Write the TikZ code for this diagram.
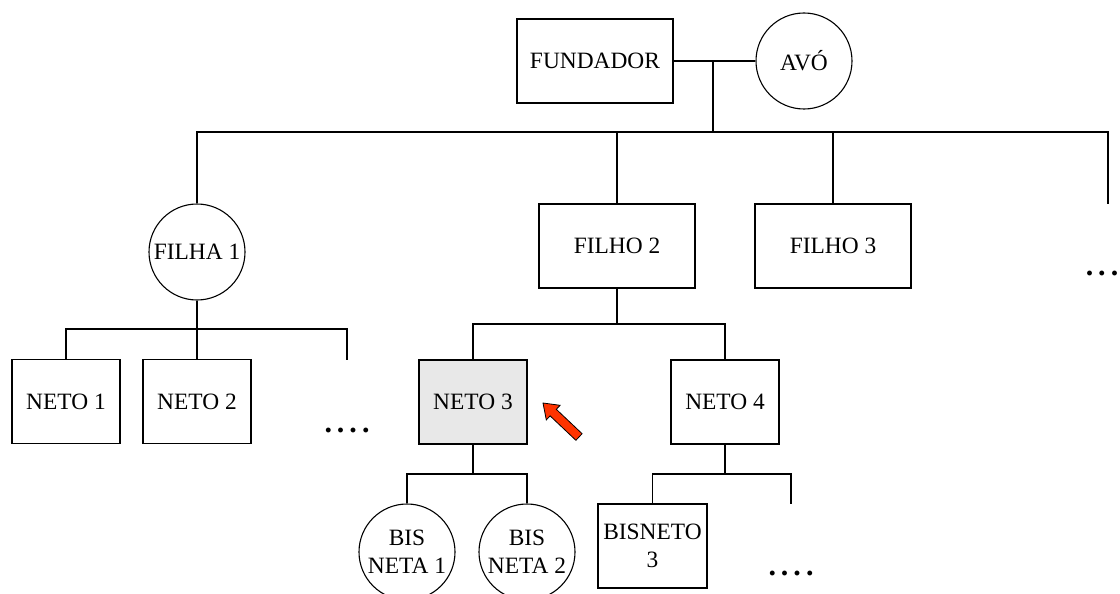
\documentclass[tikz,border=0pt]{standalone}
\usepackage{fontspec}
\setmainfont{Liberation Serif}
\definecolor{arrowred}{HTML}{FF3300}
\definecolor{selgray}{HTML}{E8E8E8}
\newcommand{\dotgap}{\hspace{5pt}}
\begin{document}
\begin{tikzpicture}[x=1pt,y=-1pt,
  every node/.style={font=\fontsize{23.4}{28}\selectfont, inner sep=0pt},
  box/.style={draw, line width=1.1pt, rectangle, minimum width=156pt, minimum height=84pt, align=center},
  smallbox/.style={box, minimum width=108pt},
  person/.style={draw, line width=1.1pt, circle, minimum size=96pt},
  link/.style={line width=1.1pt},
  dotsrow/.style={font=\fontsize{30}{32}\selectfont\bfseries}]
\useasboundingbox (0,0) rectangle (1120,594);

% level 0
\node[box] (fund) at (595,61) {FUNDADOR};
\node[person, label=center:AVÓ] (avo) at (804,61) {};

% level 1
\node[person, label=center:FILHA 1] (filha1) at (197,252) {};
\node[box] (filho2) at (617,246) {FILHO 2};
\node[box] (filho3) at (833,246) {FILHO 3};
\node[dotsrow] (d0) at (1102,273) {.\dotgap.\dotgap.};

% level 2
\node[smallbox] (neto1) at (66,401.5) {NETO 1};
\node[smallbox] (neto2) at (197,401.5) {NETO 2};
\node[dotsrow] (d1) at (347,430) {.\dotgap.\dotgap.\dotgap.};
\node[smallbox, fill=selgray] (neto3) at (473,402) {NETO 3};
\node[smallbox] (neto4) at (725,402) {NETO 4};

% level 3
\node[person, label={[align=center]center:BIS\\NETA 1}] (bn1) at (407,552) {};
\node[person, label={[align=center]center:BIS\\NETA 2}] (bn2) at (527,552) {};
\node[smallbox, minimum width=109pt] (bis3) at (652.5,546) {BISNETO\\3};
\node[dotsrow] (d2) at (791,573) {.\dotgap.\dotgap.\dotgap.};

% coordinates
\coordinate (j0) at (713,61);
\coordinate (b0) at (713,132);
\coordinate (e0) at (1108,132);
\coordinate (e0d) at (1108,204);
\coordinate (b1) at (197,329);
\coordinate (e1) at (347,329);
\coordinate (e1d) at (347,360);
\coordinate (b2) at (617,324);
\coordinate (b3) at (473,474);
\coordinate (b4) at (725,474);
\coordinate (e4) at (791,474);
\coordinate (e4d) at (791,504);

% connectors
\draw[link] (fund.east) -- (avo.west);
\draw[link] (j0) -- (b0);
\draw[link] (filha1.north) -- (filha1.north |- b0) -- (e0) -- (e0d);
\draw[link] (filho2.north) -- (filho2.north |- b0);
\draw[link] (filho3.north) -- (filho3.north |- b0);

\draw[link] (filha1.south) -- (b1);
\draw[link] (neto1.north) -- (neto1.north |- b1) -- (e1) -- (e1d);
\draw[link] (neto2.north) -- (neto2.north |- b1);

\draw[link] (filho2.south) -- (b2);
\draw[link] (neto3.north) -- (neto3.north |- b2) -- (neto4.north |- b2) -- (neto4.north);

\draw[link] (neto3.south) -- (b3);
\draw[link] (bn1.north) -- (bn1.north |- b3) -- (bn2.north |- b3) -- (bn2.north);
\draw[link] (neto4.south) -- (b4);
\draw[link] (bis3.north) -- (bis3.north |- b4) -- (e4) -- (e4d);

% red arrow
\filldraw[fill=arrowred, draw=black, line width=0.8pt, line join=miter]
  (582.1,433.7) -- (556.3,409.3) -- (560.1,405.3) -- (543,403)
  -- (546.3,419.9) -- (550.1,415.9) -- (575.9,440.3) -- cycle;
\end{tikzpicture}
\end{document}
